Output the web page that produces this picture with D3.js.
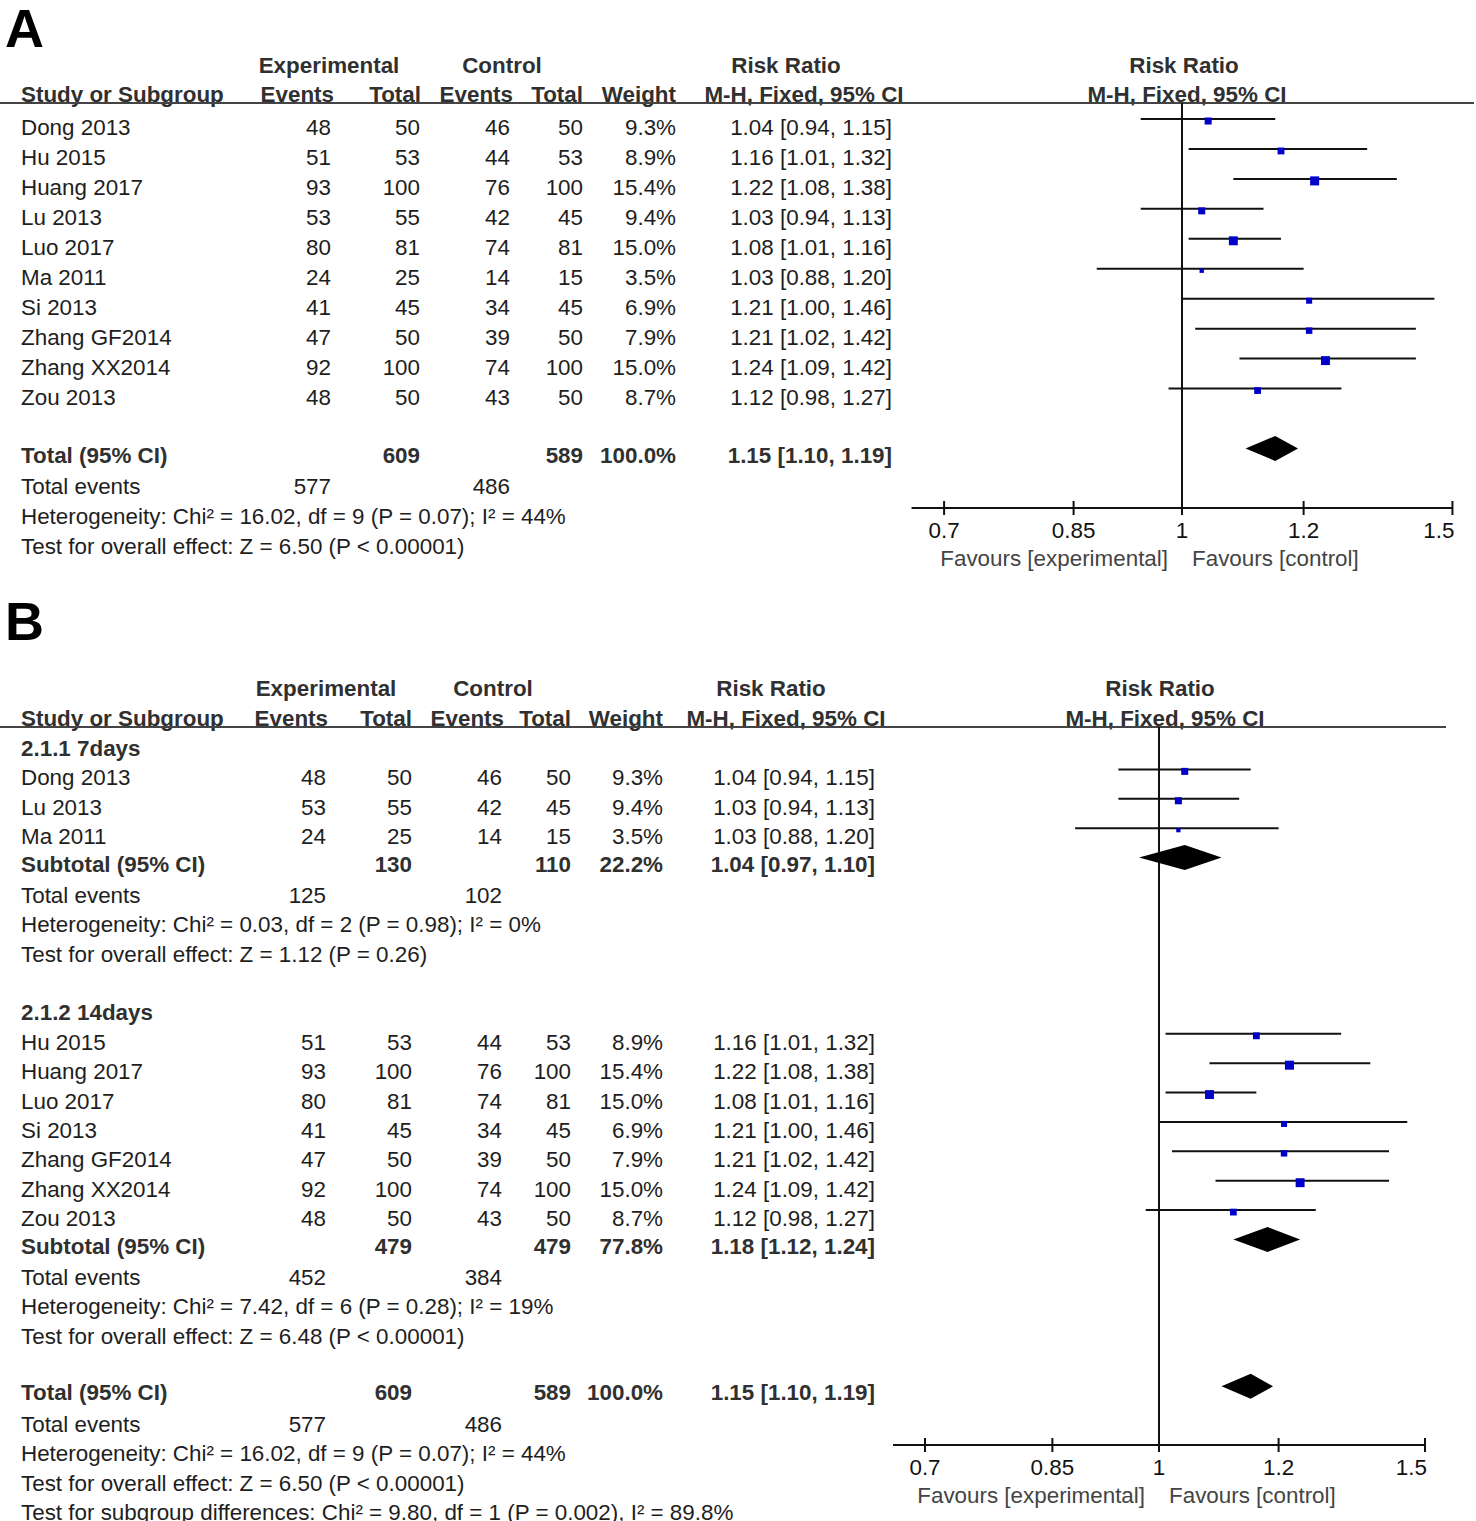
<!DOCTYPE html>
<html><head><meta charset="utf-8">
<script src="https://cdn.jsdelivr.net/npm/d3@7/dist/d3.min.js"></script>
<style>
body{margin:0;background:#fff}
svg text{font-family:"Liberation Sans",Arial,sans-serif}
</style>
</head><body>
<svg id="chart" width="1476" height="1521"></svg>
<script>
// ---------- data ----------
const studies    = ["Dong 2013","Hu 2015","Huang 2017","Lu 2013","Luo 2017","Ma 2011","Si 2013","Zhang GF2014","Zhang XX2014","Zou 2013"];
const expEvents  = [48,51,93,53,80,24,41,47,92,48];
const expTotal   = [50,53,100,55,81,25,45,50,100,50];
const ctrlEvents = [46,44,76,42,74,14,34,39,74,43];
const ctrlTotal  = [50,53,100,45,81,15,45,50,100,50];
const weights    = [9.3,8.9,15.4,9.4,15.0,3.5,6.9,7.9,15.0,8.7];
const riskRatio  = [1.04,1.16,1.22,1.03,1.08,1.03,1.21,1.21,1.24,1.12];
const ciLow      = [0.94,1.01,1.08,0.94,1.01,0.88,1.00,1.02,1.09,0.98];
const ciHigh     = [1.15,1.32,1.38,1.13,1.16,1.20,1.46,1.42,1.42,1.27];

const subgroupNames   = ["2.1.1 7days","2.1.2 14days"];
const subgroupMembers = [["Dong 2013","Lu 2013","Ma 2011"],
                         ["Hu 2015","Huang 2017","Luo 2017","Si 2013","Zhang GF2014","Zhang XX2014","Zou 2013"]];

// pooled: [subgroup 7days, subgroup 14days, overall]
const pooledLabels     = ["Subtotal (95% CI)","Subtotal (95% CI)","Total (95% CI)"];
const pooledExpTotal   = [130,479,609];
const pooledCtrlTotal  = [110,479,589];
const pooledWeight     = [22.2,77.8,100.0];
const pooledRR         = [1.04,1.18,1.15];
const pooledLow        = [0.97,1.12,1.10];
const pooledHigh       = [1.10,1.24,1.19];
const pooledExpEvents  = [125,452,577];
const pooledCtrlEvents = [102,384,486];
const heterogeneity = ["Heterogeneity: Chi² = 0.03, df = 2 (P = 0.98); I² = 0%",
                       "Heterogeneity: Chi² = 7.42, df = 6 (P = 0.28); I² = 19%",
                       "Heterogeneity: Chi² = 16.02, df = 9 (P = 0.07); I² = 44%"];
const overallEffect = ["Test for overall effect: Z = 1.12 (P = 0.26)",
                       "Test for overall effect: Z = 6.48 (P < 0.00001)",
                       "Test for overall effect: Z = 6.50 (P < 0.00001)"];
const subgroupDiff  = "Test for subgroup differences: Chi² = 9.80, df = 1 (P = 0.002), I² = 89.8%";

const tickValues = [0.7,0.85,1,1.2,1.5];
const tickLabels = ["0.7","0.85","1","1.2","1.5"];
const headerTop  = ["Experimental","Control","Risk Ratio","Risk Ratio"];
const headerCols = ["Study or Subgroup","Events","Total","Events","Total","Weight","M-H, Fixed, 95% CI","M-H, Fixed, 95% CI"];
const favours    = ["Favours [experimental]","Favours [control]"];

// ---------- helpers ----------
const FS = 22.4;
const TXT = "#1e1e1e", HDR = "#303030";
const svg = d3.select("#chart");
const fmtCI = (r,l,h)=> r.toFixed(2)+" ["+l.toFixed(2)+", "+h.toFixed(2)+"]";
const fmtW = w => w.toFixed(1)+"%";

function txt(g, x, y, s, opt={}) {
  return g.append("text").attr("x",x).attr("y",y).attr("dy","0.36em")
    .attr("font-size",opt.size||FS).attr("font-weight",opt.bold?"bold":"normal")
    .attr("fill",opt.fill||TXT).attr("text-anchor",opt.anchor||"start").text(s);
}

function drawPanel(L, rows) {
  const g = svg.append("g");
  // panel letter
  g.append("text").attr("x",L.letterX).attr("y",L.letterY).attr("font-size",54)
    .attr("font-weight","bold").attr("fill","#000").text(L.letter);
  // headers
  headerTop.forEach((h,i)=> txt(g, L.topCenters[i], L.h1Y, h, {bold:true, anchor:"middle", fill:HDR}));
  txt(g, L.col.name, L.h2Y, headerCols[0], {bold:true, fill:HDR});
  L.h2Right.forEach((x,i)=> txt(g, x, L.h2Y, headerCols[i+1], {bold:true, anchor:"end", fill:HDR}));
  txt(g, L.mhCenter, L.h2Y, headerCols[6], {bold:true, anchor:"middle", fill:HDR});
  txt(g, L.mhPlotCenter, L.h2Y, headerCols[7], {bold:true, anchor:"middle", fill:HDR});
  g.append("line").attr("x1",0).attr("x2",L.lineX2).attr("y1",L.lineY).attr("y2",L.lineY)
    .attr("stroke","#444").attr("stroke-width",2);

  // scales
  const half = L.pxPerLn*Math.log(1.5);
  const x = d3.scaleLog().domain([2/3,1.5]).range([L.center-half, L.center+half]);
  const yRow = d3.scaleLinear().domain([0,1]).range([L.rowStart, L.rowStart+L.rowStep]);

  // vertical line of no effect
  g.append("line").attr("x1",x(1)).attr("x2",x(1)).attr("y1",L.lineY).attr("y2",L.axisY)
    .attr("stroke","#111").attr("stroke-width",2);

  rows.forEach((r,k)=>{
    const yc = yRow(k);
    if (r.type==="label") {
      txt(g, L.col.name, yc, subgroupNames[r.i], {bold:true, fill:HDR});
    } else if (r.type==="study") {
      const i = r.i;
      txt(g, L.col.name, yc, studies[i]);
      txt(g, L.col.expEv, yc, expEvents[i], {anchor:"end"});
      txt(g, L.col.expTot, yc, expTotal[i], {anchor:"end"});
      txt(g, L.col.ctrlEv, yc, ctrlEvents[i], {anchor:"end"});
      txt(g, L.col.ctrlTot, yc, ctrlTotal[i], {anchor:"end"});
      txt(g, L.col.weight, yc, fmtW(weights[i]), {anchor:"end"});
      txt(g, L.col.rr, yc, fmtCI(riskRatio[i],ciLow[i],ciHigh[i]), {anchor:"end"});
      const ly = yc-8;
      g.append("line").attr("x1",x(ciLow[i])).attr("x2",x(ciHigh[i])).attr("y1",ly).attr("y2",ly)
        .attr("stroke","#111").attr("stroke-width",2);
      const s = 2.3*Math.sqrt(weights[i]);
      g.append("rect").attr("x",x(riskRatio[i])-s/2).attr("y",ly+2-s/2).attr("width",s).attr("height",s)
        .attr("fill","#0000c8");
    } else if (r.type==="pooled") {
      const i = r.i, yy = yc-2;
      txt(g, L.col.name, yy, pooledLabels[i], {bold:true, fill:HDR});
      txt(g, L.col.expTot, yy, pooledExpTotal[i], {anchor:"end", bold:true, fill:HDR});
      txt(g, L.col.ctrlTot, yy, pooledCtrlTotal[i], {anchor:"end", bold:true, fill:HDR});
      txt(g, L.col.weight, yy, fmtW(pooledWeight[i]), {anchor:"end", bold:true, fill:HDR});
      txt(g, L.col.rr, yy, fmtCI(pooledRR[i],pooledLow[i],pooledHigh[i]), {anchor:"end", bold:true, fill:HDR});
      const dy = yy-6, hh = 12.5;
      const pts = [[x(pooledLow[i]),dy],[x(pooledRR[i]),dy-hh],[x(pooledHigh[i]),dy],[x(pooledRR[i]),dy+hh]];
      g.append("path").attr("d", d3.line()(pts)+"Z").attr("fill","#000");
    } else if (r.type==="events") {
      txt(g, L.col.name, yc, "Total events");
      txt(g, L.col.expEv, yc, pooledExpEvents[r.i], {anchor:"end"});
      txt(g, L.col.ctrlEv, yc, pooledCtrlEvents[r.i], {anchor:"end"});
    } else if (r.type==="het") {
      txt(g, L.col.name, yc, heterogeneity[r.i]);
    } else if (r.type==="effect") {
      txt(g, L.col.name, yc, overallEffect[r.i]);
    } else if (r.type==="diff") {
      txt(g, L.col.name, yc, subgroupDiff);
    }
  });

  // axis
  const ax = g.append("g");
  ax.append("line").attr("x1",x.range()[0]).attr("x2",x.range()[1]).attr("y1",L.axisY).attr("y2",L.axisY)
    .attr("stroke","#111").attr("stroke-width",2);
  tickValues.forEach((v,i)=>{
    ax.append("line").attr("x1",x(v)).attr("x2",x(v)).attr("y1",L.axisY-7).attr("y2",L.axisY+7)
      .attr("stroke","#111").attr("stroke-width",2);
    const last = i===tickValues.length-1;
    txt(ax, x(v)+(last?2:0), L.axisY+22, tickLabels[i], {anchor: last?"end":"middle", fill:"#111"});
  });
  txt(ax, x(1)-14, L.axisY+50, favours[0], {anchor:"end", fill:"#444"});
  txt(ax, x(1)+10, L.axisY+50, favours[1], {fill:"#444"});
}

// ---------- rows ----------
const rowsA = studies.map((s,i)=>({type:"study",i}))
  .concat([{type:"blank"},{type:"pooled",i:2},{type:"events",i:2},{type:"het",i:2},{type:"effect",i:2}]);

const rowsB = [];
subgroupMembers.forEach((mem,gi)=>{
  rowsB.push({type:"label",i:gi});
  mem.forEach(n=> rowsB.push({type:"study", i:studies.indexOf(n)}));
  rowsB.push({type:"pooled",i:gi},{type:"events",i:gi},{type:"het",i:gi},{type:"effect",i:gi},{type:"blank"});
});
rowsB.push({type:"pooled",i:2},{type:"events",i:2},{type:"het",i:2},{type:"effect",i:2},{type:"diff"});

drawPanel({
  letter:"A", letterX:5, letterY:47,
  h1Y:65, h2Y:94, lineY:103, lineX2:1474,
  topCenters:[329,502,786,1184], h2Right:[334,421,513,583,676], mhCenter:804, mhPlotCenter:1187,
  col:{name:21, expEv:331, expTot:420, ctrlEv:510, ctrlTot:583, weight:676, rr:892},
  center:1182, pxPerLn:667, axisY:508, rowStart:127, rowStep:29.95
}, rowsA);

drawPanel({
  letter:"B", letterX:5, letterY:640,
  h1Y:688, h2Y:718, lineY:727, lineX2:1446,
  topCenters:[326,493,771,1160], h2Right:[328,412,504,571,663], mhCenter:786, mhPlotCenter:1165,
  col:{name:21, expEv:326, expTot:412, ctrlEv:502, ctrlTot:571, weight:663, rr:875},
  center:1159, pxPerLn:656, axisY:1445, rowStart:748, rowStep:29.38
}, rowsB);
</script>
</body></html>
